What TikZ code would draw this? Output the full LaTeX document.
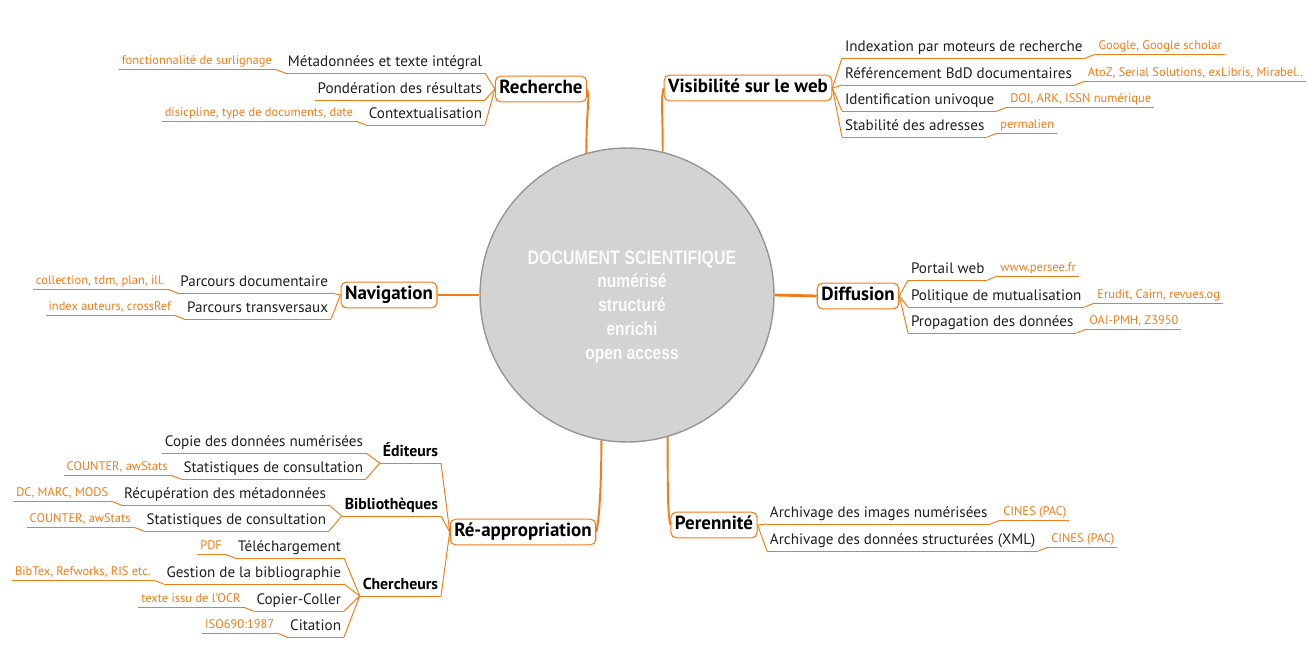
\documentclass[tikz,border=0pt]{standalone}
\usepackage{fontspec}
\setmainfont{PT Sans}
\newfontfamily\hubfont[FakeStretch=0.82]{Liberation Sans}
\usetikzlibrary{positioning}

\definecolor{mmorange}{RGB}{241,124,24}
\definecolor{hubgray}{RGB}{211,211,211}
\definecolor{hubedge}{RGB}{150,150,150}
\definecolor{inkgray}{RGB}{30,30,30}

\tikzset{
  topic/.style={draw=mmorange, fill=white, rounded corners=3pt, line width=0.6pt,
    font=\fontsize{10.8}{12}\selectfont\bfseries, inner xsep=2.3pt, inner ysep=2.6pt,
    text height=0.72em, text depth=0.22em},
  uline/.style={draw=mmorange, line width=0.55pt},
  item/.style={font=\fontsize{8.6}{10}\selectfont, text=inkgray, inner xsep=1.5pt, inner ysep=1.2pt,
    text height=0.72em, text depth=0.25em,
    append after command={(\tikzlastnode.south west) edge[uline] (\tikzlastnode.south east)}},
  group/.style={item, font=\fontsize{9}{10}\selectfont\bfseries, text=black},
  note/.style={item, font=\fontsize{7.1}{8}\selectfont, text=mmorange, text depth=0.12em},
  link/.style={draw=mmorange, line width=0.55pt},
  trunk/.style={draw=mmorange, line width=1.1pt},
}

\begin{document}
\begin{tikzpicture}[x=0.02cm, y=-0.02cm, node distance=2mm]
  \useasboundingbox (0,0) rectangle (1307,648);

  % centre
  \node[circle, draw=hubedge, fill=hubgray, line width=0.8pt, minimum size=5.88cm, inner sep=0pt] (hub) at (627,295) {};
  \node[align=center, text=white!97!gray, font=\hubfont\bfseries\fontsize{10.8}{13.6}\selectfont] (title) at (632,307)
    {{\fontsize{11.1}{12}\selectfont DOCUMENT SCIENTIFIQUE}\\ numérisé\\ structuré\\ enrichi\\ open access};

  % main topics
  \node[topic] (rech) at (541,89) {Recherche};
  \node[topic] (vis) at (748,88) {Visibilité sur le web};
  \node[topic] (nav) at (389,295) {Navigation};
  \node[topic] (diff) at (858,296) {Diffusion};
  \node[topic] (reap) at (523,532) {Ré-appropriation};
  \node[topic] (pere) at (714,525) {Perennité};

  \draw[trunk] (hub.106) .. controls +(0,-45) and +(3,12) .. (rech.east);
  \draw[trunk] (hub.76) .. controls +(0,-45) and +(-3,12) .. (vis.west);
  \draw[trunk, line width=1.6pt] (hub.180) -- (nav.east);
  \draw[trunk, line width=1.6pt] (hub.0) -- (diff.west);
  \draw[trunk] (hub.260) .. controls +(0,45) and +(3,-12) .. (reap.east);
  \draw[trunk] (hub.286) .. controls +(0,45) and +(-3,-12) .. (pere.west);

  % Recherche
  \node[item, anchor=south east] (rechA) at (485,73) {Métadonnées et texte intégral};
  \node[item, anchor=south east] (rechB) at (485,100) {Pondération des résultats};
  \node[item, anchor=south east] (rechC) at (485,125) {Contextualisation};
  \node[note, left=of rechA.south west, anchor=south east, yshift=2.2pt] (rechAn) {fonctionnalité de surlignage};
  \node[note, left=of rechC.south west, anchor=south east, yshift=2.2pt] (rechCn) {disicpline, type de documents, date};
  \draw[link] (rech.west) -- (rechA.south east);
  \draw[link] (rech.west) -- (rechB.south east);
  \draw[link] (rech.west) -- (rechC.south east);
  \draw[link] (rechA.south west) -- (rechAn.south east);
  \draw[link] (rechC.south west) -- (rechCn.south east);

  % Visibilite sur le web
  \node[item, anchor=south west] (visA) at (842,58) {Indexation par moteurs de recherche};
  \node[item, anchor=south west] (visB) at (842,85) {Référencement BdD documentaires};
  \node[item, anchor=south west] (visC) at (842,111) {Identification univoque};
  \node[item, anchor=south west] (visD) at (842,137) {Stabilité des adresses};
  \node[note, right=of visA.south east, anchor=south west, yshift=2.2pt] (visAn) {Google, Google scholar};
  \node[note, right=of visB.south east, anchor=south west, yshift=2.2pt] (visBn) {AtoZ, Serial Solutions, exLibris, Mirabel..};
  \node[note, right=of visC.south east, anchor=south west, yshift=2.2pt] (visCn) {DOI, ARK, ISSN numérique};
  \node[note, right=of visD.south east, anchor=south west, yshift=2.2pt] (visDn) {permalien};
  \draw[link] (vis.east) -- (visA.south west);
  \draw[link] (vis.east) -- (visB.south west);
  \draw[link] (vis.east) -- (visC.south west);
  \draw[link] (vis.east) -- (visD.south west);
  \draw[link] (visA.south east) -- (visAn.south west);
  \draw[link] (visB.south east) -- (visBn.south west);
  \draw[link] (visC.south east) -- (visCn.south west);
  \draw[link] (visD.south east) -- (visDn.south west);

  % Navigation
  \node[item, anchor=south east] (navA) at (331,293) {Parcours documentaire};
  \node[item, anchor=south east] (navB) at (331,319) {Parcours transversaux};
  \node[note, left=of navA.south west, anchor=south east, yshift=2.2pt] (navAn) {collection, tdm, plan, ill.};
  \node[note, left=of navB.south west, anchor=south east, yshift=2.2pt] (navBn) {index auteurs, crossRef};
  \draw[link] (nav.west) -- (navA.south east);
  \draw[link] (nav.west) -- (navB.south east);
  \draw[link] (navA.south west) -- (navAn.south east);
  \draw[link] (navB.south west) -- (navBn.south east);

  % Diffusion
  \node[item, anchor=south west] (diffA) at (908,280) {Portail web};
  \node[item, anchor=south west] (diffB) at (908,307) {Politique de mutualisation};
  \node[item, anchor=south west] (diffC) at (908,333) {Propagation des données};
  \node[note, right=of diffA.south east, anchor=south west, yshift=2.2pt] (diffAn) {www.persee.fr};
  \node[note, right=of diffB.south east, anchor=south west, yshift=2.2pt] (diffBn) {Erudit, Cairn, revues.og};
  \node[note, right=of diffC.south east, anchor=south west, yshift=2.2pt] (diffCn) {OAI-PMH, Z3950};
  \draw[link] (diff.east) -- (diffA.south west);
  \draw[link] (diff.east) -- (diffB.south west);
  \draw[link] (diff.east) -- (diffC.south west);
  \draw[link] (diffA.south east) -- (diffAn.south west);
  \draw[link] (diffB.south east) -- (diffBn.south west);
  \draw[link] (diffC.south east) -- (diffCn.south west);

  % Re-appropriation
  \node[group, anchor=south east] (edit) at (441,463) {Éditeurs};
  \node[group, anchor=south east] (bib) at (441,516) {Bibliothèques};
  \node[group, anchor=south east] (cher) at (441,596) {Chercheurs};
  \draw[link] (reap.west) -- (edit.south east);
  \draw[link] (reap.west) -- (bib.south east);
  \draw[link] (reap.west) -- (cher.south east);

  \node[item, anchor=south east] (editA) at (366,453) {Copie des données numérisées};
  \node[item, anchor=south east] (editB) at (366,479) {Statistiques de consultation};
  \node[note, left=of editB.south west, anchor=south east, yshift=2.2pt] (editBn) {COUNTER, awStats};
  \draw[link] (edit.south west) -- (editA.south east);
  \draw[link] (edit.south west) -- (editB.south east);
  \draw[link] (editB.south west) -- (editBn.south east);

  \node[item, anchor=south east] (bibA) at (329,505) {Récupération des métadonnées};
  \node[item, anchor=south east] (bibB) at (329,531) {Statistiques de consultation};
  \node[note, left=of bibA.south west, anchor=south east, yshift=2.2pt] (bibAn) {DC, MARC, MODS};
  \node[note, left=of bibB.south west, anchor=south east, yshift=2.2pt] (bibBn) {COUNTER, awStats};
  \draw[link] (bib.south west) -- (bibA.south east);
  \draw[link] (bib.south west) -- (bibB.south east);
  \draw[link] (bibA.south west) -- (bibAn.south east);
  \draw[link] (bibB.south west) -- (bibBn.south east);

  \node[item, anchor=south east] (cherA) at (344,558) {Téléchargement};
  \node[item, anchor=south east] (cherB) at (344,584) {Gestion de la bibliographie};
  \node[item, anchor=south east] (cherC) at (344,611) {Copier-Coller};
  \node[item, anchor=south east] (cherD) at (344,637) {Citation};
  \node[note, left=of cherA.south west, anchor=south east, yshift=2.2pt] (cherAn) {PDF};
  \node[note, left=of cherB.south west, anchor=south east, yshift=2.2pt] (cherBn) {BibTex, Refworks, RIS etc.};
  \node[note, left=of cherC.south west, anchor=south east, yshift=2.2pt] (cherCn) {texte issu de l'OCR};
  \node[note, left=of cherD.south west, anchor=south east, yshift=2.2pt] (cherDn) {ISO690:1987};
  \draw[link] (cher.south west) -- (cherA.south east);
  \draw[link] (cher.south west) -- (cherB.south east);
  \draw[link] (cher.south west) -- (cherC.south east);
  \draw[link] (cher.south west) -- (cherD.south east);
  \draw[link] (cherA.south west) -- (cherAn.south east);
  \draw[link] (cherB.south west) -- (cherBn.south east);
  \draw[link] (cherC.south west) -- (cherCn.south east);
  \draw[link] (cherD.south west) -- (cherDn.south east);

  % Perennite
  \node[item, anchor=south west] (pereA) at (767,524) {Archivage des images numérisées};
  \node[item, anchor=south west] (pereB) at (767,551) {Archivage des données structurées (XML)};
  \node[note, right=of pereA.south east, anchor=south west, yshift=2.2pt] (pereAn) {CINES (PAC)};
  \node[note, right=of pereB.south east, anchor=south west, yshift=2.2pt] (pereBn) {CINES (PAC)};
  \draw[link] (pere.east) -- (pereA.south west);
  \draw[link] (pere.east) -- (pereB.south west);
  \draw[link] (pereA.south east) -- (pereAn.south west);
  \draw[link] (pereB.south east) -- (pereBn.south west);
\end{tikzpicture}
\end{document}
